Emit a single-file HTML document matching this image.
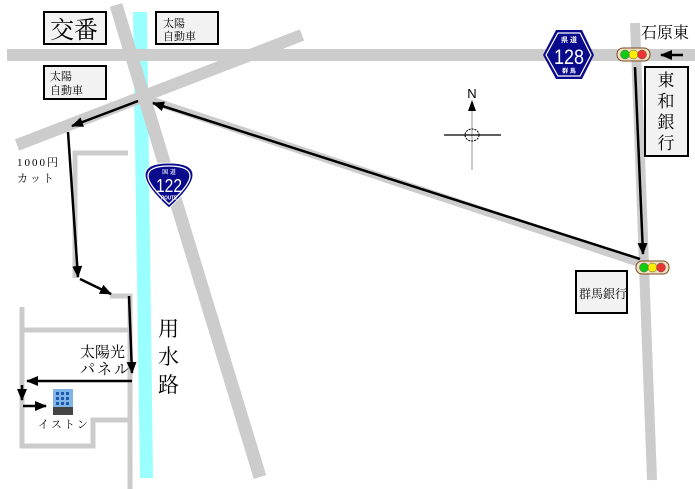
<!DOCTYPE html>
<html><head><meta charset="utf-8"><style>
html,body{margin:0;padding:0;background:#fff;}
svg{display:block;}
text{font-family:"Liberation Serif","Noto Serif CJK SC","Noto Sans CJK JP",serif;fill:#000;}
.s{font-family:"Liberation Sans","Noto Sans CJK JP",sans-serif;}
</style></head><body>
<svg width="695" height="489" viewBox="0 0 695 489" xmlns="http://www.w3.org/2000/svg">
<defs>
<marker id="b" markerWidth="12" markerHeight="10" refX="11" refY="5" orient="auto" markerUnits="userSpaceOnUse"><path d="M0,0 L12,5 L0,10 z" fill="#000"/></marker>
</defs>
<polygon points="133,12 147,12 153,478 140,478" fill="#99ffff"/>
<g stroke="#cccccc" fill="none">
<line x1="7" y1="55" x2="695" y2="55" stroke-width="12"/>
<line x1="116" y1="5" x2="260" y2="477" stroke-width="13"/>
<line x1="17" y1="145" x2="302" y2="35" stroke-width="12"/>
<line x1="635" y1="23" x2="652" y2="480" stroke-width="10"/>
<line x1="150" y1="100" x2="645" y2="265" stroke-width="8"/>
<g stroke-width="5">
<polyline points="75,278 75,153 128,153"/>
<polyline points="110,296 130,296 130,489"/>
<polyline points="22,307 22,446 93,446 93,420 128,420"/>
<line x1="22" y1="330" x2="128" y2="330"/>
</g>
</g>
<g stroke="#000" stroke-width="2.5" fill="none">
<line x1="640" y1="259" x2="153" y2="103" marker-end="url(#b)"/>
<line x1="138" y1="101" x2="72" y2="126" marker-end="url(#b)"/>
<line x1="68" y1="132" x2="78" y2="277" marker-end="url(#b)"/>
<line x1="80" y1="279" x2="111" y2="294" marker-end="url(#b)"/>
<line x1="129" y1="296" x2="132" y2="373" marker-end="url(#b)"/>
<line x1="132" y1="381" x2="27" y2="381" marker-end="url(#b)"/>
<line x1="22" y1="385" x2="22" y2="400" marker-end="url(#b)"/>
<line x1="23" y1="406" x2="46" y2="406" marker-end="url(#b)"/>
<line x1="635" y1="67" x2="643" y2="254" marker-end="url(#b)"/>
<line x1="683" y1="55" x2="661" y2="55" marker-end="url(#b)"/>
</g>
<g fill="#f2f2f2" stroke="#000" stroke-width="2">
<rect x="44" y="12" width="62" height="32"/>
<rect x="156" y="12" width="62" height="32"/>
<rect x="44" y="66" width="62" height="33"/>
<rect x="645" y="67" width="43" height="89"/>
<rect x="576" y="271" width="51" height="42"/>
</g>
<text x="50" y="38" font-size="24">交番</text>
<text x="163" y="27" font-size="11">太陽</text>
<text x="163" y="40" font-size="11">自動車</text>
<text x="50" y="80" font-size="11">太陽</text>
<text x="50" y="94" font-size="11">自動車</text>
<g font-size="17" text-anchor="middle">
<text x="666" y="86">東</text><text x="666" y="107">和</text><text x="666" y="128">銀</text><text x="666" y="149">行</text>
</g>
<text x="579" y="298" font-size="12">群馬銀行</text>
<text x="641" y="38" font-size="16">石原東</text>
<text x="17" y="166" font-size="11" letter-spacing="2">1000円</text>
<text x="17" y="182" font-size="11" letter-spacing="2">カット</text>
<text x="80" y="357" font-size="15">太陽光</text>
<text x="80" y="374" font-size="15" letter-spacing="2">パネル</text>
<g font-size="21"><text x="158" y="336">用</text><text x="158" y="364">水</text><text x="158" y="392">路</text></g>
<text x="38" y="428" font-size="11" letter-spacing="2">イストン</text>
<rect x="53" y="389" width="20" height="26" fill="#7fb5e8"/>
<rect x="53" y="407" width="20" height="8" fill="#444"/>
<g fill="#1e5aa8"><rect x="56" y="392" width="3" height="3"/><rect x="61" y="392" width="3" height="3"/><rect x="66" y="392" width="3" height="3"/><rect x="56" y="397" width="3" height="3"/><rect x="61" y="397" width="3" height="3"/><rect x="66" y="397" width="3" height="3"/><rect x="56" y="402" width="3" height="3"/><rect x="61" y="402" width="3" height="3"/><rect x="66" y="402" width="3" height="3"/></g>
<line x1="472" y1="105" x2="472" y2="170" stroke="#999" stroke-width="1"/>
<polygon points="472,100 468,111 476,111" fill="#000"/>
<line x1="444" y1="135" x2="501" y2="135" stroke="#000" stroke-width="1.2"/>
<ellipse cx="472" cy="135" rx="7" ry="6" fill="none" stroke="#000" stroke-dasharray="2,1"/>
<text x="472" y="98" font-size="13" text-anchor="middle" class="s">N</text>
<path d="M145,175 Q145,163 169,163 Q193,163 193,175 Q193,186 169,208 Q145,186 145,175 z" fill="#0a0a8c" stroke="#fff" stroke-width="1"/>
<path d="M148,176 Q148,166 169,166 Q190,166 190,176 Q190,185 169,204 Q148,185 148,176 z" fill="none" stroke="#fff" stroke-width="1.3"/>
<text x="169" y="174" font-size="6" text-anchor="middle" class="s" style="fill:#fff">国 道</text>
<text x="169" y="192" font-size="18" text-anchor="middle" class="s" style="fill:#fff" textLength="26" lengthAdjust="spacingAndGlyphs">122</text>
<text x="169" y="199.5" font-size="5" text-anchor="middle" class="s" style="fill:#fff;font-weight:bold" textLength="16" lengthAdjust="spacingAndGlyphs">ROUTE</text>
<polygon points="556,30 582,30 594,55 582,79 556,79 543,55" fill="#0a0a8c"/>
<polygon points="558,33 580,33 591,55 580,76 558,76 546,55" fill="none" stroke="#fff" stroke-width="1.2"/>
<text x="569" y="42" font-size="7" text-anchor="middle" class="s" style="fill:#fff;font-weight:bold">県 道</text>
<text x="569" y="64" font-size="21" text-anchor="middle" class="s" style="fill:#fff" textLength="30" lengthAdjust="spacingAndGlyphs">128</text>
<text x="569" y="73" font-size="6" text-anchor="middle" class="s" style="fill:#fff;font-weight:bold">群 馬</text>
<g stroke="#7a4a20" stroke-width="1">
<rect x="617" y="48" width="33" height="13" rx="6" fill="#f0e0c0"/>
<rect x="636" y="261" width="33" height="13" rx="6" fill="#f0e0c0"/>
</g>
<g stroke="#555" stroke-width="0.5"><circle cx="625" cy="54.5" r="4.5" fill="#11cc11"/><circle cx="633.5" cy="54.5" r="4.5" fill="#ffee00"/><circle cx="642" cy="54.5" r="4.5" fill="#ee3333"/>
<circle cx="644" cy="267.5" r="4.5" fill="#11cc11"/><circle cx="652.5" cy="267.5" r="4.5" fill="#ffee00"/><circle cx="661" cy="267.5" r="4.5" fill="#ee3333"/></g>
</svg>
</body></html>
